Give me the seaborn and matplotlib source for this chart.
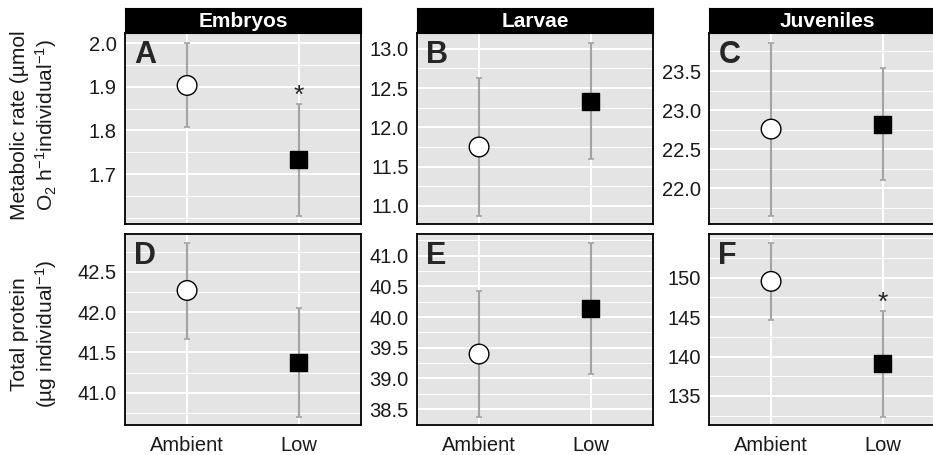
import pandas as pd
import numpy as np
import matplotlib
matplotlib.use("Agg")
import matplotlib.pyplot as plt
import matplotlib.ticker as mticker
import seaborn as sns

stages = ["Embryos", "Larvae", "Juveniles"]
treatments = ["Ambient", "Low"]
letters = [["A", "B", "C"], ["D", "E", "F"]]

# means and error bar ends (per stage: Ambient, Low)
metab_mean = [[1.903, 1.733], [11.75, 12.33], [22.756, 22.82]]
metab_lo = [[1.807, 1.605], [10.873, 11.598], [21.645, 22.106]]
metab_hi = [[2.000, 1.861], [12.627, 13.077], [23.86, 23.54]]
protein_mean = [[42.268, 41.371], [39.397, 40.147], [149.54, 139.07]]
protein_lo = [[41.669, 40.70], [38.374, 39.07], [144.7, 132.37]]
protein_hi = [[42.856, 42.045], [40.418, 41.207], [154.44, 145.76]]

# significant differences (row, stage, treatment)
stars = [(0, 0, 1), (1, 2, 1)]

ylims = [[(1.586, 2.023), (10.77, 13.2), (21.54, 23.987)],
         [(40.6, 42.968), (38.24, 41.354), (131.32, 155.55)]]
yticks = [[[1.7, 1.8, 1.9, 2.0], [11.0, 11.5, 12.0, 12.5, 13.0], [22.0, 22.5, 23.0, 23.5]],
          [[41.0, 41.5, 42.0, 42.5], [38.5, 39.0, 39.5, 40.0, 40.5, 41.0], [135, 140, 145, 150]]]
ylabels = ["Metabolic rate (\u00b5mol\nO$_2$ h$^{-1}$individual$^{-1}$)",
           "Total protein\n(\u00b5g individual$^{-1}$)"]

sns.set_style("darkgrid", {"axes.facecolor": "#E4E4E4", "grid.color": "white"})
plt.rcParams['font.family'] = ['Liberation Sans', 'DejaVu Sans']
plt.rcParams['mathtext.fontset'] = 'custom'
plt.rcParams['mathtext.rm'] = 'Liberation Sans'
plt.rcParams['mathtext.it'] = 'Liberation Sans:italic'
plt.rcParams['mathtext.bf'] = 'Liberation Sans:bold'

W, H = 933, 455
fig = plt.figure(figsize=(W / 100, H / 100), dpi=100)

col_left = [125, 417, 709]
pw = 236
row_top = [33, 234]
ph = 191

means = [metab_mean, protein_mean]
los = [metab_lo, protein_lo]
his = [metab_hi, protein_hi]

for r in range(2):
    for c in range(3):
        ax = fig.add_axes([col_left[c] / W, 1 - (row_top[r] + ph) / H, pw / W, ph / H])
        df = pd.DataFrame({"treatment": treatments,
                           "mean": means[r][c],
                           "lo": los[r][c],
                           "hi": his[r][c]})
        # error bars
        ax.errorbar(x=[0, 1], y=df["mean"],
                    yerr=[df["mean"] - df["lo"], df["hi"] - df["mean"]],
                    fmt="none", ecolor="#A3A3A3", elinewidth=1.5, capsize=2.5,
                    capthick=1.2, zorder=2)
        sns.scatterplot(data=df, x="treatment", y="mean", hue="treatment",
                        style="treatment", size="treatment",
                        palette={"Ambient": "white", "Low": "black"},
                        markers={"Ambient": "o", "Low": "s"},
                        sizes={"Ambient": 200, "Low": 150},
                        edgecolor="black", linewidth=1.0, legend=False,
                        ax=ax, zorder=3)
        ax.set_xlim(-0.555, 1.555)
        ax.set_ylim(*ylims[r][c])
        ax.yaxis.set_major_locator(mticker.FixedLocator(yticks[r][c]))
        step = yticks[r][c][1] - yticks[r][c][0]
        ax.yaxis.set_minor_locator(mticker.MultipleLocator(step / 2))
        ax.yaxis.set_major_formatter(mticker.FormatStrFormatter("%.1f" if step < 1 else "%d"))
        ax.grid(True, which="major", color="white", linewidth=1.4)
        ax.grid(True, which="minor", axis="y", color="white", linewidth=0.7)
        ax.set_axisbelow(True)
        ax.set_xlabel("")
        ax.set_ylabel("")
        ax.tick_params(axis="both", which="major", length=4, width=1, color="#8C8C8C",
                       labelsize=14.5, labelcolor="#1A1A1A", pad=2)
        ax.tick_params(axis="x", pad=4)
        ax.tick_params(axis="y", which="minor", length=0)
        if r == 0:
            ax.tick_params(axis="x", labelbottom=False)
        for s in ax.spines.values():
            s.set_visible(True)
            s.set_color("black")
            s.set_linewidth(1.3)
        ax.text(0.04, 0.965, letters[r][c], transform=ax.transAxes, ha="left", va="top",
                fontsize=22, fontweight="bold", color="#262626")
        for (sr, sc, st) in stars:
            if sr == r and sc == c:
                ax.annotate("*", xy=(st, his[r][c][st]), xytext=(0, -3),
                            textcoords="offset points", ha="center", va="bottom",
                            fontsize=19, color="#262626")
        if r == 0:
            sax = fig.add_axes([col_left[c] / W, 1 - row_top[r] / H, pw / W, 25 / H])
            sax.set_facecolor("black")
            sax.set_xticks([])
            sax.set_yticks([])
            sax.grid(False)
            for s in sax.spines.values():
                s.set_color("black")
            sax.text(0.5, 0.45, stages[c], transform=sax.transAxes, ha="center", va="center",
                     fontsize=15, fontweight="bold", color="white")

fig.text(34.5 / W, 1 - 125 / H, ylabels[0], rotation=90, ha="center", va="center",
         fontsize=15, multialignment="center", linespacing=1.2, color="#1A1A1A")
fig.text(34.5 / W, 1 - 334 / H, ylabels[1], rotation=90, ha="center", va="center",
         fontsize=15, multialignment="center", linespacing=1.2, color="#1A1A1A")

fig.savefig("out.png", dpi=100)
